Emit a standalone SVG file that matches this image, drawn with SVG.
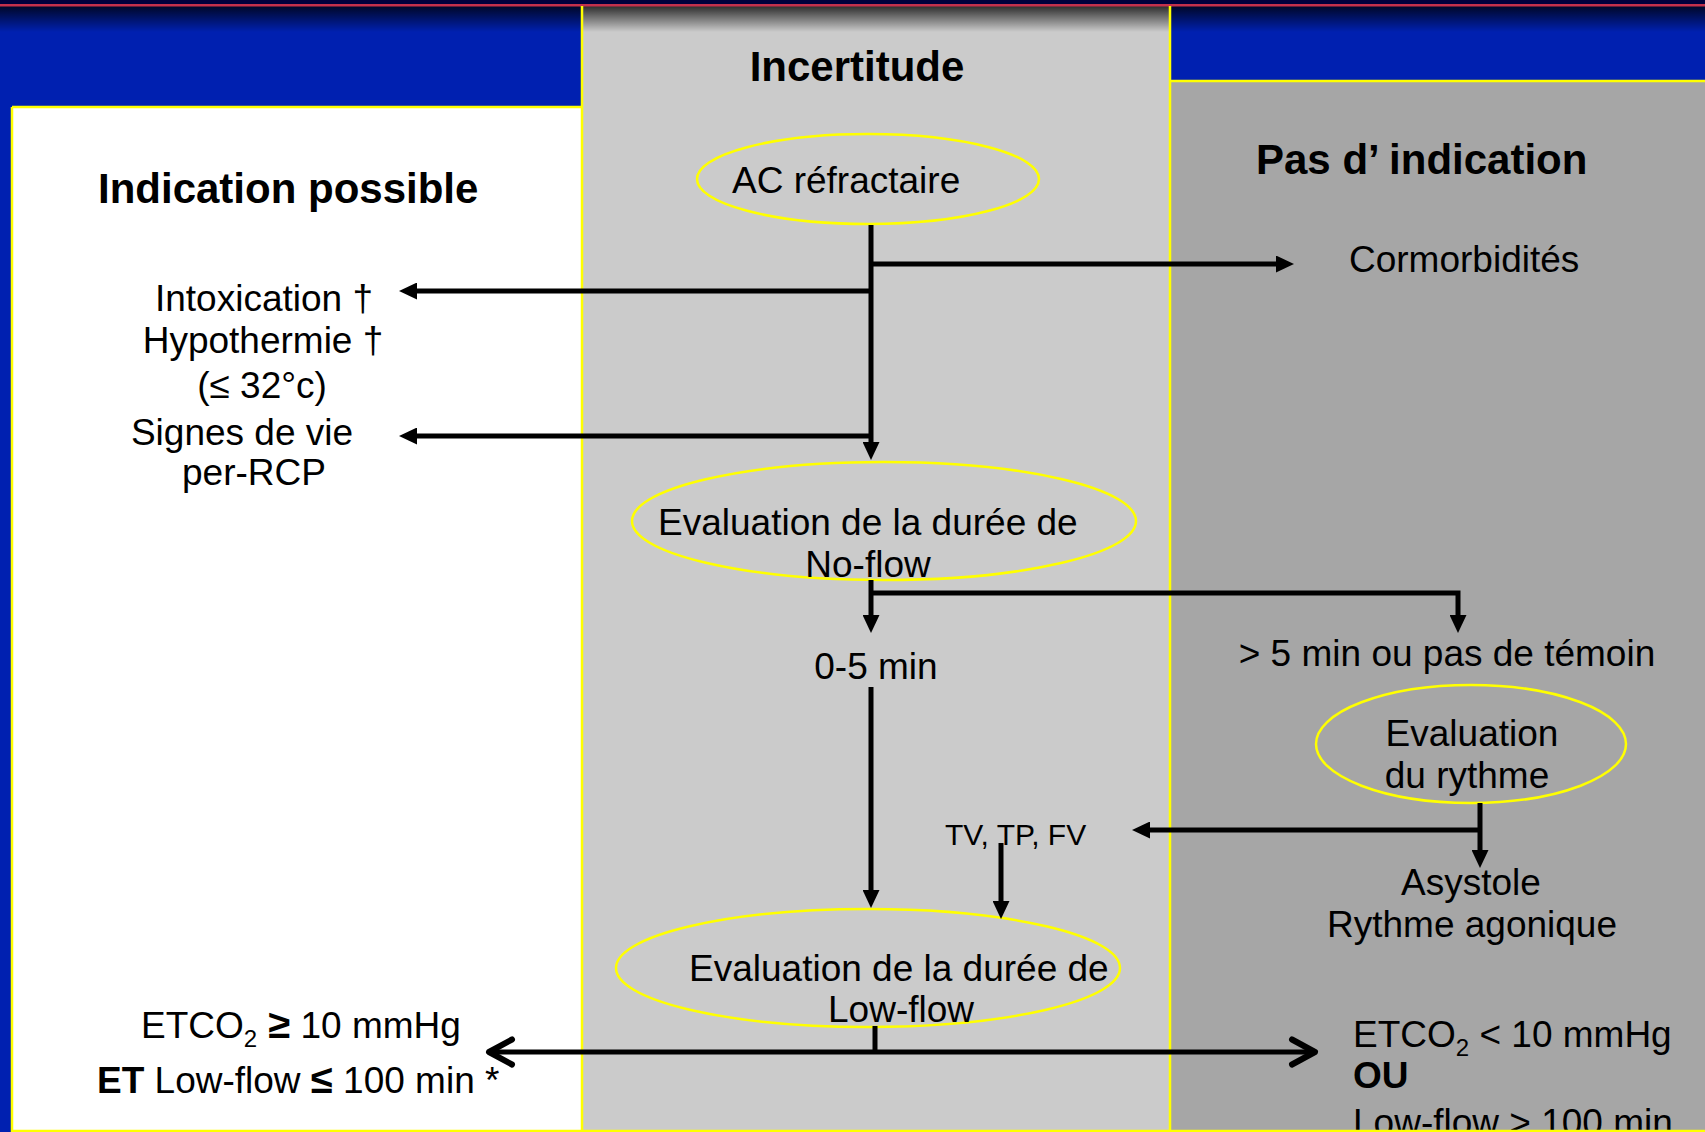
<svg xmlns="http://www.w3.org/2000/svg" width="1705" height="1132" viewBox="0 0 1705 1132">
<style>
text{font-family:"Liberation Sans",Arial,sans-serif;fill:#000}
.t{font-size:37px}
.h{font-size:42px;font-weight:bold}
.s{font-size:30px}
.c{text-anchor:middle}
.b{font-weight:bold}
.ell{fill:none;stroke:#ffff00;stroke-width:2.5}
.ln{fill:none;stroke:#000;stroke-width:5}
.yl{stroke:#ffff00;stroke-width:2.5}
</style>
<defs>
<linearGradient id="shade" x1="0" y1="0" x2="0" y2="1">
<stop offset="0" stop-color="#000" stop-opacity="0.78"/>
<stop offset="1" stop-color="#000" stop-opacity="0"/>
</linearGradient>
<marker id="tri" markerUnits="userSpaceOnUse" viewBox="0 0 18 17" markerWidth="18" markerHeight="17" refX="2" refY="8.5" orient="auto">
<path d="M0,0 L18,8.5 L0,17 z" fill="#000"/>
</marker>
<marker id="chev" markerUnits="userSpaceOnUse" viewBox="-30 -17 34 34" markerWidth="34" markerHeight="34" refX="0" refY="0" orient="auto">
<path d="M-24,-12.5 L-1,0 L-24,12.5" fill="none" stroke="#000" stroke-width="6" stroke-linejoin="round" stroke-linecap="round"/>
</marker>
</defs>
<g id="background">
<rect x="0" y="0" width="1705" height="1132" fill="#0020b0"/>
<rect x="12" y="107" width="570" height="1030" fill="#ffffff"/>
<rect x="582" y="6" width="588" height="1130" fill="#cbcbcb"/>
<rect x="1170" y="81" width="540" height="1060" fill="#a6a6a6"/>
<rect x="0" y="6" width="1705" height="26" fill="url(#shade)"/>
<rect x="0" y="0" width="1705" height="4" fill="#00003c"/>
<rect x="0" y="4" width="1705" height="2.5" fill="#c4304c"/>
<line class="yl" x1="12" y1="107" x2="582" y2="107"/>
<line class="yl" x1="12" y1="107" x2="12" y2="1132"/>
<line class="yl" x1="582" y1="6" x2="582" y2="1132"/>
<line class="yl" x1="1170" y1="6" x2="1170" y2="1132"/>
<line class="yl" x1="1170" y1="81" x2="1705" y2="81"/>
</g>
<g id="headers">
<text class="h c" x="857" y="81">Incertitude</text>
<text class="h" x="98" y="203">Indication possible</text>
<text class="h" x="1256" y="174">Pas d’ indication</text>
</g>
<g id="node-ac">
<ellipse class="ell" cx="868" cy="179" rx="171" ry="45"/>
<text class="t" x="732" y="193">AC réfractaire</text>
</g>
<g id="node-comorb">
<text class="t" x="1349" y="272">Cormorbidités</text>
</g>
<g id="node-left-top">
<text class="t c" x="264" y="311">Intoxication †</text>
<text class="t c" x="263" y="353">Hypothermie †</text>
<text class="t c" x="262" y="398">(≤ 32°c)</text>
<text class="t c" x="242" y="445">Signes de vie</text>
<text class="t c" x="254" y="485">per-RCP</text>
</g>
<g id="node-noflow">
<ellipse class="ell" cx="884" cy="521" rx="252" ry="59"/>
<text class="t" x="658" y="535">Evaluation de la durée de</text>
<text class="t c" x="868" y="577">No-flow</text>
</g>
<g id="node-05">
<text class="t c" x="876" y="679">0-5 min</text>
</g>
<g id="node-gt5">
<text class="t c" x="1447" y="666">&gt; 5 min ou pas de témoin</text>
</g>
<g id="node-rythme">
<ellipse class="ell" cx="1471" cy="744" rx="155" ry="59"/>
<text class="t c" x="1472" y="746">Evaluation</text>
<text class="t c" x="1467" y="788">du rythme</text>
</g>
<g id="node-tv">
<text class="s" x="945" y="845">TV, TP, FV</text>
</g>
<g id="node-asystole">
<text class="t c" x="1471" y="895">Asystole</text>
<text class="t c" x="1472" y="937">Rythme agonique</text>
</g>
<g id="node-lowflow">
<ellipse class="ell" cx="868" cy="968" rx="252" ry="59"/>
<text class="t" x="689" y="981">Evaluation de la durée de</text>
<text class="t c" x="901" y="1022">Low-flow</text>
</g>
<g id="node-left-bottom">
<text class="t" x="141" y="1038">ETCO<tspan font-size="24" dy="9">2</tspan><tspan dy="-9" font-weight="bold" font-size="40"> ≥</tspan> 10 mmHg</text>
<text class="t" x="97" y="1093"><tspan font-weight="bold">ET</tspan> Low-flow <tspan font-weight="bold" font-size="40">≤</tspan> 100 min *</text>
</g>
<g id="node-right-bottom">
<text class="t" x="1353" y="1047">ETCO<tspan font-size="24" dy="9">2</tspan><tspan dy="-9"> &lt; 10 mmHg</tspan></text>
<text class="t b" x="1353" y="1088">OU</text>
<text class="t" x="1353" y="1135">Low-flow &gt; 100  min</text>
</g>
<g id="connectors">
<path class="ln" d="M871,225 V444" marker-end="url(#tri)"/>
<path class="ln" d="M871,264 H1278" marker-end="url(#tri)"/>
<path class="ln" d="M871,291 H415" marker-end="url(#tri)"/>
<path class="ln" d="M871,436 H415" marker-end="url(#tri)"/>
<path class="ln" d="M871,580 V617" marker-end="url(#tri)"/>
<path class="ln" d="M871,593 H1458 V617" marker-end="url(#tri)"/>
<path class="ln" d="M871,687 V892" marker-end="url(#tri)"/>
<path class="ln" d="M1001,843 V903" marker-end="url(#tri)"/>
<path class="ln" d="M1480,803 V852" marker-end="url(#tri)"/>
<path class="ln" d="M1480,830 H1148" marker-end="url(#tri)"/>
<path class="ln" d="M875,1026 V1052"/>
<path class="ln" d="M875,1052 H488" marker-end="url(#chev)"/>
<path class="ln" d="M875,1052 H1316" marker-end="url(#chev)"/>
</g>
<line class="yl" x1="12" y1="1131" x2="1705" y2="1131"/>
</svg>
